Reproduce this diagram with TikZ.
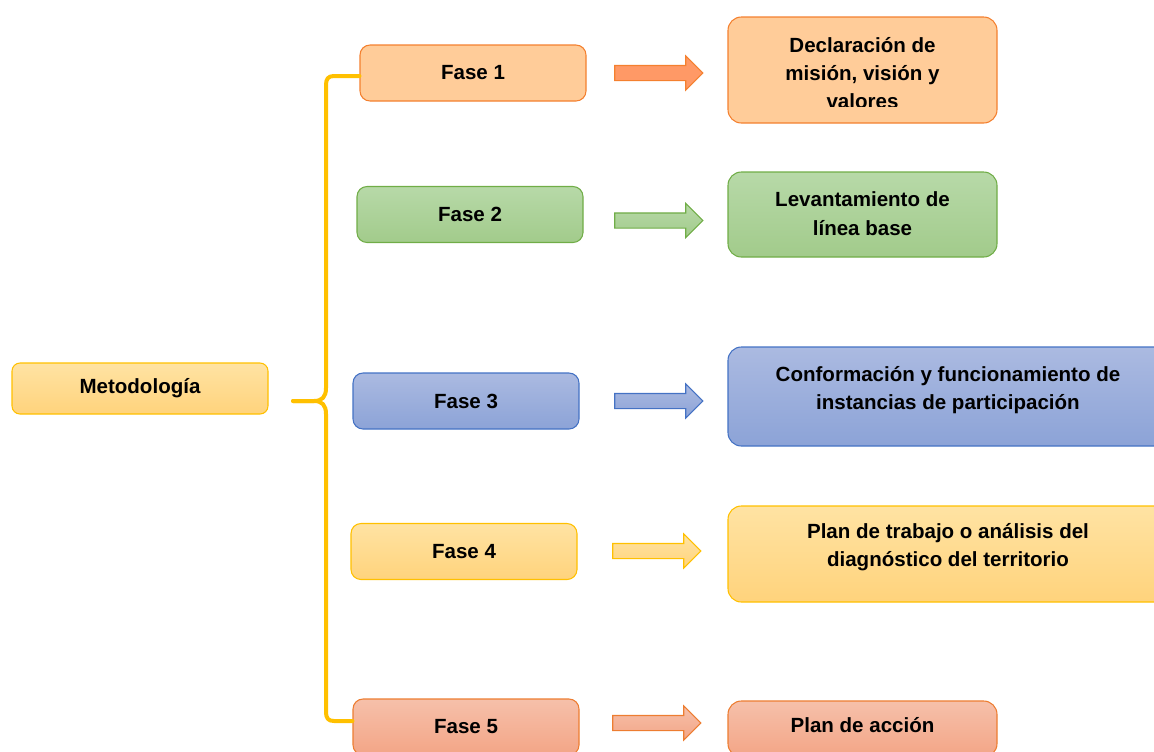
\documentclass[tikz,border=0pt]{standalone}
\usepackage{fontspec}
\setmainfont{Liberation Sans}
\usetikzlibrary{shapes.arrows}
\definecolor{orB}{HTML}{F4802F}
\definecolor{orF}{HTML}{FFCC99}
\definecolor{orA}{HTML}{FF9966}
\definecolor{grB}{HTML}{70AD47}
\definecolor{grT}{HTML}{B7D9A8}
\definecolor{grM}{HTML}{A2CB8B}
\definecolor{blB}{HTML}{4472C4}
\definecolor{blT}{HTML}{ABBAE1}
\definecolor{blM}{HTML}{8CA3D7}
\definecolor{ylB}{HTML}{FFC000}
\definecolor{ylT}{HTML}{FFE3A3}
\definecolor{ylM}{HTML}{FFD37C}
\definecolor{saB}{HTML}{ED7D31}
\definecolor{saT}{HTML}{F6C0AA}
\definecolor{saM}{HTML}{F3A586}
\tikzset{
  box/.style={rounded corners=7.5pt, line width=0.8pt, inner sep=0pt, align=center,
    font=\bfseries\fontsize{15.4}{21}\selectfont},
  bigbox/.style={box, rounded corners=10pt},
  txt/.style={inner sep=0pt, align=center, font=\bfseries\fontsize{15.4}{21.5}\selectfont},
  fasebox/.style={box, minimum width=169.5pt, minimum height=42pt},
  orange/.style={top color=orF, bottom color=orF, draw=orB},
  green/.style={top color=grT, bottom color=grM, draw=grB},
  blue/.style={top color=blT, bottom color=blM, draw=blB},
  yellow/.style={top color=ylT, bottom color=ylM, draw=ylB},
  salmon/.style={top color=saT, bottom color=saM, draw=saB},
  blockarrow/.style={single arrow, minimum height=66pt, minimum width=21pt,
    inner xsep=0pt, inner ysep=5.25pt, text height=0pt, text depth=0pt, line width=0.8pt},
  bline/.style={draw=ylB, line width=3pt, line cap=round, line join=round}
}
\begin{document}
\begin{tikzpicture}[x=0.75pt,y=-0.75pt]
\useasboundingbox (0,0) rectangle (1154,751);
\clip (0,0) rectangle (1154,751);

% central node
\node[box, yellow, rounded corners=6pt, minimum width=192pt, minimum height=38.25pt] (meto) at (140,388.5) {Metodología};

% phase boxes
\node[fasebox, orange] (f1) at (473,73) {Fase 1};
\node[fasebox, green]  (f2) at (470,214.5) {Fase 2};
\node[fasebox, blue]   (f3) at (466,401) {Fase 3};
\node[fasebox, yellow] (f4) at (464,551.5) {Fase 4};
\node[fasebox, salmon] (f5) at (466,727) {Fase 5};

% arrows
\node[blockarrow, fill=orA, draw=orB] (a1) at (655,73) {};
\node[blockarrow, top color=grT, bottom color=grM, draw=grB] (a2) at (655,220.5) {};
\node[blockarrow, top color=blT, bottom color=blM, draw=blB] (a3) at (655,401) {};
\node[blockarrow, top color=ylT, bottom color=ylM, draw=ylB] (a4) at (653,551) {};
\node[blockarrow, top color=saT, bottom color=saM, draw=saB] (a5) at (653,723) {};

% result boxes
\node[bigbox, orange, minimum width=201.75pt, minimum height=79.5pt] (r1) at (862.5,70) {};
\begin{scope}
  \clip (728,17) rectangle (997,106);
  \node[txt, font=\bfseries\fontsize{15.4}{21}\selectfont] (t1) at (862.5,73) {Declaración de\\misión, visión y\\valores};
\end{scope}
\node[bigbox, green, minimum width=201.75pt, minimum height=63.75pt] (r2) at (862.5,214.5) {};
\node[txt] (t2) at (862.5,213.5) {Levantamiento de\\línea base};
\node[bigbox, blue, minimum width=330pt, minimum height=74.25pt] (r3) at (948,396.5) {};
\node[txt] (t3) at (948,390) {Conformación y funcionamiento de\\instancias de participación};
\node[bigbox, yellow, minimum width=330pt, minimum height=72pt] (r4) at (948,554) {};
\node[txt] (t4) at (948,547) {Plan de trabajo o análisis del\\diagnóstico del territorio};
\node[bigbox, salmon, minimum width=201.75pt, minimum height=42pt] (r5) at (862.5,729) {};
\node[txt] (t5) at (862.5,725) {Plan de acción};

% brace
\coordinate (tip) at (293,401);
\draw[bline] ([yshift=-2.25pt]f1.west) -- (334,76) .. controls (328,76) and (326,79) .. (326,85)
  -- (326,388) .. controls (326,397) and (322,401) .. (314,401) -- (tip);
\draw[bline] (tip) -- (314,401) .. controls (322,401) and (326,405) .. (326,414)
  -- (326,712) .. controls (326,718) and (328,721) .. (334,721) -- ([yshift=4.5pt]f5.west);
\end{tikzpicture}
\end{document}
